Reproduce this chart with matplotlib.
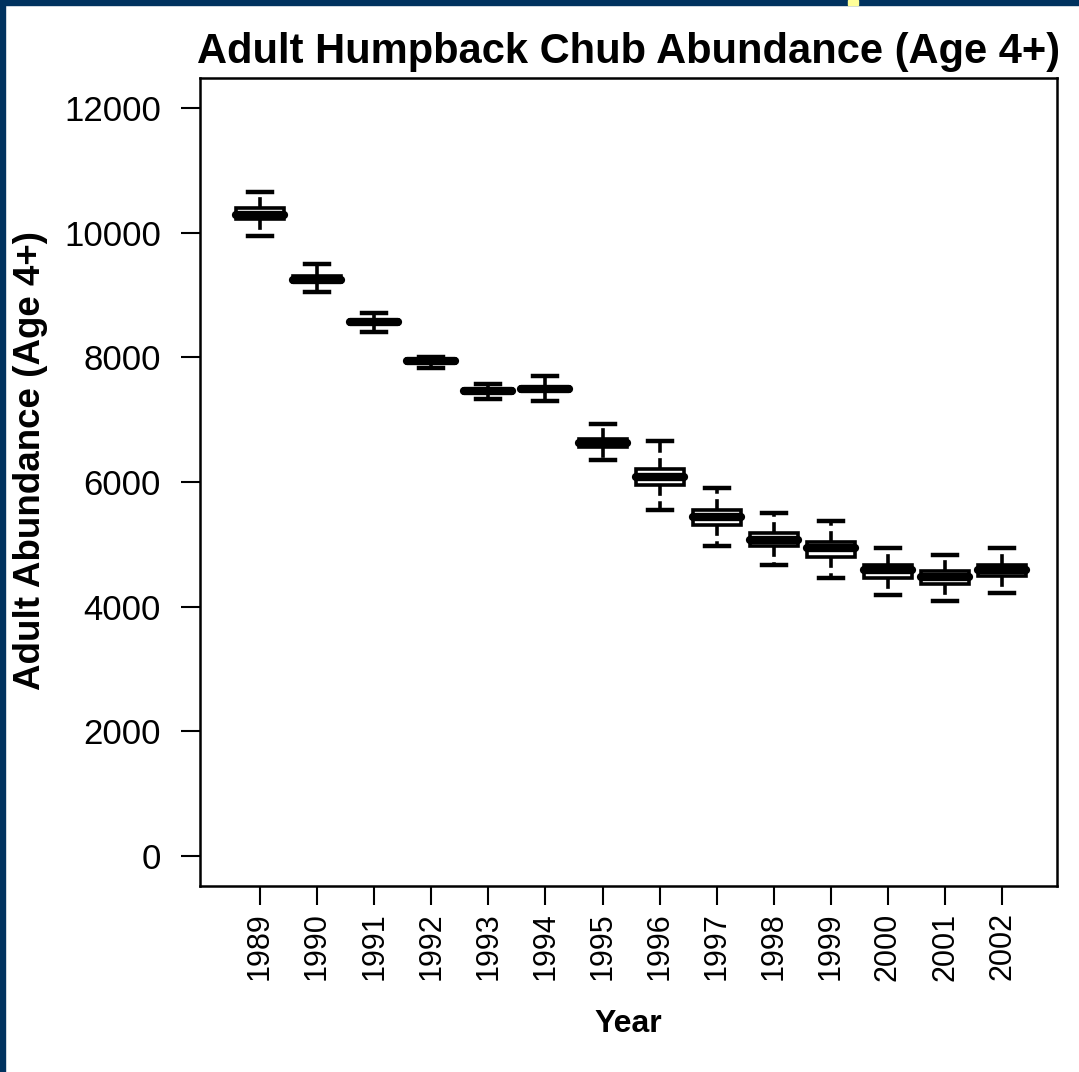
import numpy as np
import matplotlib.pyplot as plt
from matplotlib.patches import Rectangle

plt.rcParams['font.family'] = ['Liberation Sans', 'DejaVu Sans']

years = ['1989', '1990', '1991', '1992', '1993', '1994', '1995',
         '1996', '1997', '1998', '1999', '2000', '2001', '2002']
whishi = [10650, 9490, 8715, 8000, 7570, 7700, 6930, 6650, 5910, 5510, 5375, 4940, 4835, 4940]
q3 = [10390, 9310, 8600, 7975, 7490, 7530, 6690, 6210, 5550, 5180, 5045, 4665, 4565, 4665]
med = [10280, 9245, 8565, 7940, 7460, 7490, 6625, 6085, 5445, 5075, 4940, 4585, 4470, 4585]
q1 = [10215, 9210, 8530, 7915, 7430, 7455, 6555, 5950, 5305, 4970, 4805, 4465, 4370, 4500]
whislo = [9950, 9050, 8405, 7825, 7330, 7300, 6350, 5550, 4975, 4675, 4465, 4195, 4095, 4225]

stats = []
for i in range(len(years)):
    stats.append({'whislo': whislo[i], 'q1': q1[i], 'med': med[i],
                  'q3': q3[i], 'whishi': whishi[i], 'fliers': []})

fig = plt.figure(figsize=(10.79, 10.72), dpi=100)
# dark frame along the top and left edge
fig.patches.append(Rectangle((0, 1 - 5 / 1072), 1, 5 / 1072, transform=fig.transFigure,
                             color='#00325F', zorder=0))
fig.patches.append(Rectangle((0, 0), 5 / 1079, 1, transform=fig.transFigure,
                             color='#00325F', zorder=0))
fig.patches.append(Rectangle((848 / 1079, 1 - 5 / 1072), 10 / 1079, 5 / 1072,
                             transform=fig.transFigure, color='#FFFF99', zorder=1))

ax = fig.add_axes([200 / 1079, 1 - 886 / 1072, 857 / 1079, 808 / 1072])
pos = np.arange(1, len(years) + 1)
ax.bxp(stats, positions=pos, widths=0.84, showfliers=False, patch_artist=True,
       boxprops=dict(facecolor='white', edgecolor='black', linewidth=2.6),
       medianprops=dict(color='black', linewidth=6, solid_capstyle='round'),
       whiskerprops=dict(color='black', linewidth=2.6, linestyle=(0, (3, 1.5))),
       capprops=dict(color='black', linewidth=3.2))

ax.set_xlim(-0.05, 14.96)
ax.set_ylim(-480, 12480)
ax.set_yticks([0, 2000, 4000, 6000, 8000, 10000, 12000])
ax.set_xticks(pos)
ax.set_xticklabels(years, rotation=90)
ax.tick_params(axis='both', direction='out', length=14, width=1.5, labelsize=25, pad=14)
ax.tick_params(axis='x', labelsize=22, pad=5)
for s in ax.spines.values():
    s.set_linewidth(1.8)

ax.set_title('Adult Humpback Chub Abundance (Age 4+)', fontsize=30, fontweight='bold', pad=11)
ax.set_ylabel('Adult Abundance (Age 4+)', fontsize=26.5, fontweight='bold')
ax.yaxis.set_label_coords(-0.177, 0.526)
ax.set_xlabel('Year', fontsize=23, fontweight='bold')
ax.xaxis.set_label_coords(0.5, -0.152)

fig.savefig('out.png', dpi=100)
